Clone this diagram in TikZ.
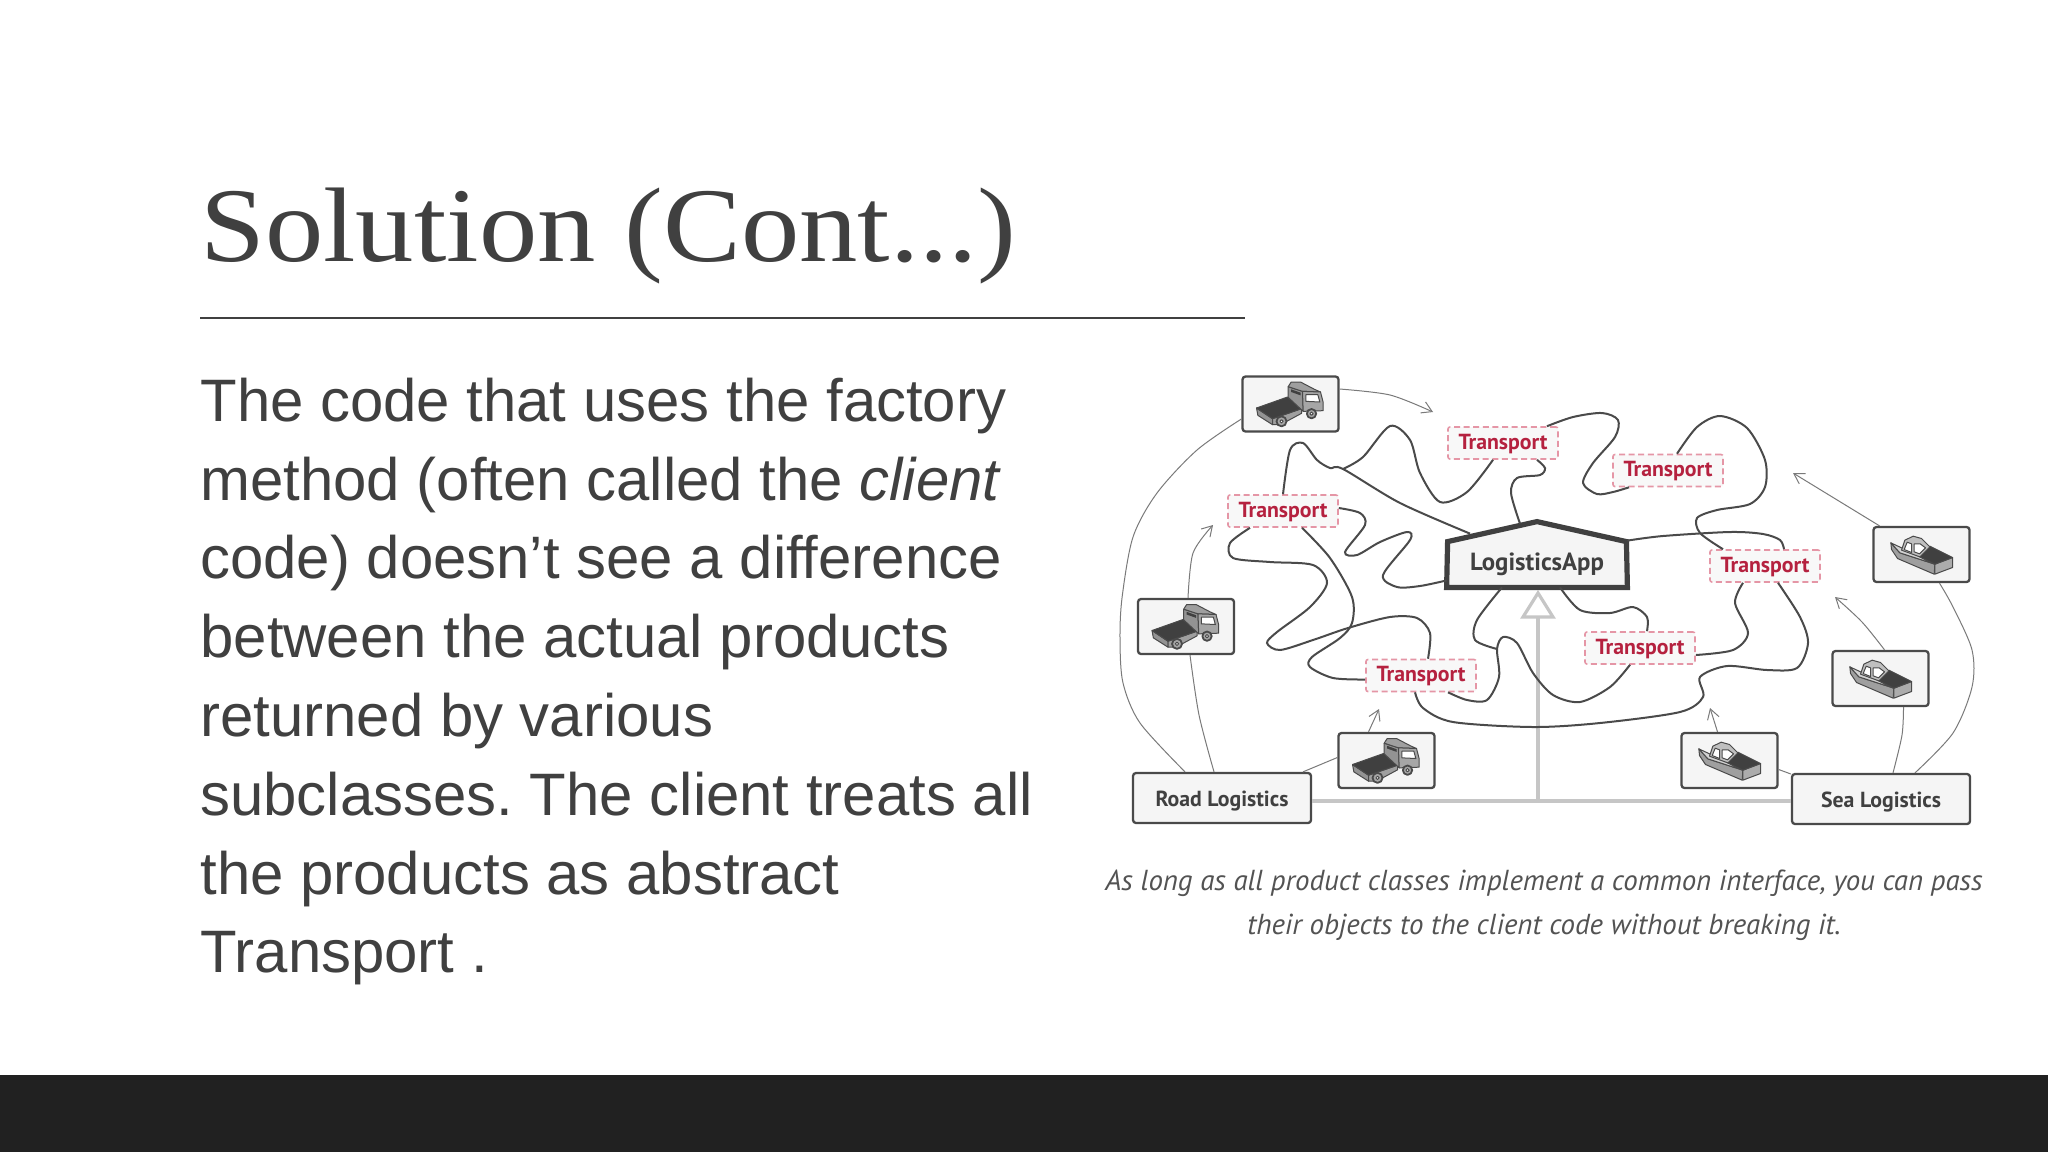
\documentclass[tikz,border=0pt]{standalone}
\usepackage{fontspec}
\usetikzlibrary{calc,arrows.meta}
\newfontfamily\bodyfont{Liberation Sans}
\newfontfamily\labelfont{PT Sans}
\newfontfamily\titlefont[FakeStretch=1.1]{Liberation Serif}
\definecolor{ink}{HTML}{404040}
\definecolor{boxfill}{HTML}{F5F5F5}
\definecolor{wirec}{HTML}{4A4A4A}
\definecolor{thinc}{HTML}{7A7A7A}
\definecolor{inhc}{HTML}{C6C6C6}
\definecolor{redt}{HTML}{B5213F}
\definecolor{redd}{HTML}{E596A6}
\definecolor{band}{HTML}{212121}
\tikzset{
 transportbox/.style={draw=redd,fill=boxfill!70!white,dashed,dash pattern=on 3pt off 1.8pt,line width=0.8pt,rounded corners=1pt,minimum width=55pt,minimum height=16pt,inner sep=0pt,text height=6.2pt,text depth=0pt,text=redt,font=\labelfont\bfseries\fontsize{10.9}{12}\selectfont},
 iconbox/.style={draw=wirec,fill=boxfill,line width=1.15pt,rounded corners=1.5pt,minimum width=48pt,minimum height=27.5pt,inner sep=0pt},
 factorybox/.style={draw=wirec,fill=boxfill,line width=1.15pt,rounded corners=1.5pt,minimum width=89pt,minimum height=25pt,inner sep=0pt,text height=8pt,text depth=0pt,text=ink,font=\labelfont\bfseries\fontsize{10.9}{12}\selectfont},
 wire/.style={draw=wirec,line width=1pt},
 thin arrow/.style={draw=thinc,line width=0.5pt,-{Straight Barb[length=5pt,width=6pt,line width=0.5pt]}},
 thin link/.style={draw=thinc,line width=0.5pt},
 inherit/.style={draw=inhc,line width=1.6pt}
}
\newcommand{\truckicon}[1]{%
 \begin{scope}[shift={(#1)},x=0.16667pt,y=-0.16667pt,line width=0.5pt,draw=wirec,line join=round]
  \filldraw[fill=gray!85] (-102,12)--(-54,44)--(-54,62)--(-98,34)--cycle;
  \filldraw[fill=gray!75] (-54,44)--(33,14)--(33,28)--(-30,62)--(-54,62)--cycle;
  \filldraw[fill=black!75] (-102,12)--(-9,-21)--(33,14)--(-54,44)--cycle;
  \filldraw[fill=gray!85] (-7,-52)--(36,-38)--(38,22)--(-7,-20)--cycle;
  \filldraw[fill=gray!75] (-7,-52)--(2,-66)--(30,-66)--(72,-44)--(90,-36)--(36,-38)--cycle;
  \filldraw[fill=gray!70] (36,-38)--(90,-36)--(98,-5)--(98,20)--(38,22)--cycle;
  \fill[black!75] (2,-44)--(30,-34)--(30,-26)--(2,-36)--cycle;
  \filldraw[fill=white] (46,-28)--(82,-28)--(88,-6)--(46,-8)--cycle;
  \filldraw[fill=gray!70,line width=0.9pt] (-27,52) circle (15);
  \filldraw[fill=white] (-27,52) circle (5);
  \filldraw[fill=gray!70,line width=0.9pt] (63,29) circle (14);
  \filldraw[fill=white] (63,29) circle (5);
 \end{scope}}
\newcommand{\boaticon}[1]{%
 \begin{scope}[shift={(#1)},x=0.16667pt,y=-0.16667pt,line width=0.5pt,draw=wirec,line join=round]
  \filldraw[fill=gray!75] (-92,-35)--(-90,-15)--(-72,12)--(38,59)--(40,29)--(-65,-5)--cycle;
  \filldraw[fill=gray!65] (40,29)--(93,9)--(93,39)--(40,59)--cycle;
  \filldraw[fill=gray!35] (-92,-35)--(-60,-20)--(-5,7)--(40,29)--(-65,-5)--cycle;
  \filldraw[fill=black!75] (-5,7)--(25,-25)--(93,9)--(40,29)--cycle;
  \filldraw[fill=gray!50] (-60,-13)--(-50,-43)--(-25,-55)--(0,-48)--(25,-23)--(-5,7)--cycle;
  \filldraw[fill=white] (-52,-15)--(-43,-37)--(-30,-32)--(-30,-6)--cycle;
  \filldraw[fill=white] (-22,-32)--(-4,-32)--(12,-20)--(-6,-2)--(-22,-8)--cycle;
 \end{scope}}
\begin{document}
\begin{tikzpicture}[x=0.5pt,y=-0.5pt]
\useasboundingbox (0,0) rectangle (2048,1152);
\fill[white] (0,0) rectangle (2048,1152);
\fill[band] (0,1075) rectangle (2048,1152);
% title and body
\node[anchor=base west,inner sep=0pt,text=ink,font=\titlefont\fontsize{53}{60}\selectfont] (title) at (200,261) {Solution (Cont...)};
\coordinate (ruleL) at (200,318);
\coordinate (ruleR) at (1245,318);
\draw[ink,line width=1pt] (ruleL) -- (ruleR);
\node[anchor=north west,inner sep=0pt,align=left,text=ink,font=\bodyfont\fontsize{29.95}{39.4}\selectfont] (body) at (200,377.5) {The code that uses the factory\\method (often called the \textit{client}\\code) doesn’t see a difference\\between the actual products\\returned by various\\subclasses.\ The client treats all\\the products as abstract\\Transport .};
% caption
\node[anchor=north,inner sep=0pt,align=center,text=ink!90,font=\labelfont\itshape\fontsize{14.45}{21.7}\selectfont] (caption) at (1544,870) {As long as all product classes implement a common interface, you can pass\\their objects to the client code without breaking it.};
% inheritance
\node[factorybox] (road) at (1222,798) {Road Logistics};
\node[factorybox] (sea) at (1881,799) {Sea Logistics};
\coordinate (inhbase) at (1538,801);
\coordinate (inhtop) at (1538,617);
\draw[inherit] ($(road.east)+(0,3)$) -- ($(sea.west)+(0,2)$);
\draw[inherit] (inhbase) -- (inhtop);
\draw[inherit,fill=white,line join=miter] (inhtop)++(-15,0) -- ++(30,0) -- ++(-15,-24) -- cycle;
% icon boxes
\node[iconbox] (tr1) at (1290.5,404) {};
\node[iconbox] (tr2) at (1186,626.5) {};
\node[iconbox] (tr3) at (1386.5,760.5) {};
\node[iconbox] (b1) at (1921.5,554.5) {};
\node[iconbox] (b2) at (1880.5,678.5) {};
\node[iconbox] (b3) at (1729.5,760.5) {};
\truckicon{tr1}\truckicon{tr2}\truckicon{tr3}
\boaticon{b1}\boaticon{b2}\boaticon{b3}
% client
\node[minimum width=90pt,minimum height=32.5pt,inner sep=0pt] (la) at (1537,554.5) {};
\draw[draw=ink,fill=boxfill,line width=2.6pt,line join=miter] (la.south west) -- (la.south east) -- ($(la.north east)+(-1,20)$) -- (la.north) -- ($(la.north west)+(1,20)$) -- cycle;
\node[anchor=base,inner sep=0pt,text=ink,font=\labelfont\bfseries\fontsize{12.4}{14}\selectfont] (latext) at (1537,570) {LogisticsApp};
% products
\node[transportbox] (tA) at (1503,443) {Transport};
\node[transportbox] (tB) at (1283,511) {Transport};
\node[transportbox] (tC) at (1668,470.5) {Transport};
\node[transportbox] (tD) at (1765,566) {Transport};
\node[transportbox] (tE) at (1421,675.5) {Transport};
\node[transportbox] (tF) at (1640,648) {Transport};
\coordinate (j1) at (1343,469);
\coordinate (j2) at (1497,649);
% tangled client wires
\draw[wire] plot[smooth] coordinates {($(la.north)+(-67,12)$) (1400,503) (j1) (1330,468) (1317,460) (1303,443) (1290,450) (tB.north)};
\draw[wire] plot[smooth] coordinates {(j1) (1363,457) (1390,426) (1410,440) (1420,473) (1440,502) (1467,492) ($(tA.south)+(-10,0)$)};
\draw[wire] plot[smooth] coordinates {($(la.north)+(-17,2)$) (1511,493) (1517,478) (1540,475) (1545,468) ($(tA.south)+(34,0)$)};
\draw[wire] plot[smooth] coordinates {($(tA.north)+(44,0)$) (1573,417) (1602,413) (1618,420) (1615,437) (1593,463) (1583,483) (1597,494) (1613,492) ($(tC.south)+(-39,0)$)};
\draw[wire] plot[smooth] coordinates {($(tC.north)+(9,0)$) (1697,427) (1720,416) (1747,428) (1765,460) (1765,487) (1750,504) (1717,510) (1697,518) (1700,533) ($(tD.north)+(-42,0)$)};
\draw[wire] plot[smooth] coordinates {($(la.north east)+(0,19)$) (1663,536) (1730,532) (1763,534) (1780,540) ($(tD.north)+(19,0)$)};
\draw[wire] plot[smooth] coordinates {($(tD.south)+(-22,0)$) (1735,603) (1748,633) (1733,650) ($(tF.east)+(0,7)$)};
\draw[wire] plot[smooth] coordinates {($(tD.south)+(13,0)$) (1800,617) (1808,643) (1797,668) (1767,670) (1727,666) (1700,677) (1703,697) (1680,712) (1600,723) (1533,727) (1453,722) (1423,708) ($(tE.south)+(-6,0)$)};
\draw[wire] plot[smooth] coordinates {($(tF.south)+(-10,0)$) (1610,687) (1580,702) (1553,695) (1533,673) (1517,643) (1503,637) (j2) (1499,677) (1487,700) (1467,700) ($(tE.south)+(27,0)$)};
\draw[wire] plot[smooth] coordinates {($(la.south)+(23,0)$) (1580,610) (1610,613) (1633,607) (1647,617) ($(tF.north)+(7,0)$)};
\draw[wire] plot[smooth] coordinates {($(la.south)+(-35,0)$) (1477,620) (1475,640) (j2)};
\draw[wire] plot[smooth] coordinates {($(tB.east)+(0,-3)$) (1360,513) (1365,525) (1345,552) (1357,555) (1380,542) (1407,532) (1410,540) (1383,575) (1397,587) (1420,586) ($(la.south west)+(0,-7)$)};
\draw[wire] plot[smooth] coordinates {($(tB.south)+(-33,0)$) (1230,543) (1233,558) (1270,562) (1313,565) (1327,583) (1310,607) (1277,632) (1267,643) (1280,650) (1313,640) (1348,628) (1390,617) (1417,618) (1430,633) ($(tE.north)+(7,0)$)};
\draw[wire] plot[smooth] coordinates {($(tB.south)+(19,0)$) (1330,558) (1352,597) (1352,623) (1340,638) (1312,657) (1310,667) (1333,678) ($(tE.west)+(0,4)$)};
% thin links
\coordinate (a1) at (1433,412);
\coordinate (a2) at (1213,525);
\coordinate (a3) at (1379,709);
\coordinate (a4) at (1710,708);
\coordinate (a5) at (1835,597);
\coordinate (a6) at (1793,473);
\draw[thin arrow] plot[smooth] coordinates {($(tr1.east)+(0,-15)$) (1390,395) (a1)};
\draw[thin arrow] plot[smooth] coordinates {($(tr2.north)+(2,0)$) (1193,553) (a2)};
\draw[thin arrow] plot[smooth] coordinates {($(tr3.north)+(-18,0)$) (a3)};
\draw[thin arrow] plot[smooth] coordinates {($(b3.north)+(-12,0)$) (a4)};
\draw[thin arrow] plot[smooth] coordinates {($(b2.north)+(4,0)$) (1862,622) (a5)};
\draw[thin arrow] plot[smooth] coordinates {($(b1.north)+(-42,0)$) (a6)};
\draw[thin link] plot[smooth] coordinates {($(road.north)+(-37,0)$) (1140,723) (1123,683) (1120,640) (1122,598) (1133,537) (1157,493) (1197,450) ($(tr1.west)+(0,15)$)};
\draw[thin link] plot[smooth] coordinates {($(road.north)+(-8,0)$) (1199,715) ($(tr2.south)+(4,0)$)};
\draw[thin link] ($(road.north)+(81,0)$) -- ($(tr3.west)+(0,-3)$);
\draw[thin link] ($(sea.west)+(0,-25)$) -- ($(b3.east)+(0,9)$);
\draw[thin link] plot[smooth] coordinates {($(sea.north)+(12,0)$) (1902,735) ($(b2.south)+(23,0)$)};
\draw[thin link] plot[smooth] coordinates {($(sea.north)+(34,0)$) (1953,733) (1972,687) (1972,650) (1953,607) ($(b1.south)+(18,0)$)};
\end{tikzpicture}
\end{document}
